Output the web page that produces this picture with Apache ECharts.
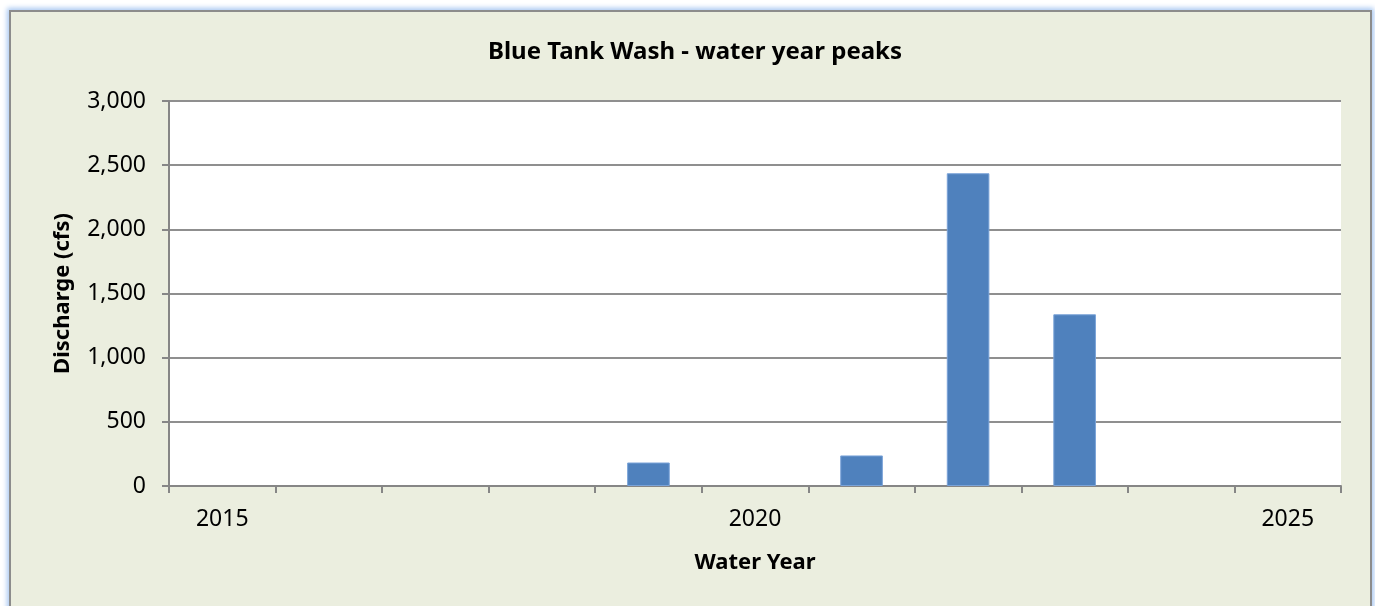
<!DOCTYPE html>
<html><head><meta charset="utf-8">
<script src="https://cdn.jsdelivr.net/npm/echarts@6/dist/echarts.min.js"></script>
<style>
html,body{margin:0;padding:0;width:1375px;height:606px;background:#fff;overflow:hidden;}
#frame{position:absolute;left:9px;top:10px;width:1359px;height:606px;background:#EBEEDF;border:2px solid #8c8c8c;box-shadow:0 0 5px 2px #a9c8f2;}
#chart{position:absolute;left:0;top:0;width:1375px;height:606px;}
</style></head>
<body><div id="frame"></div><div id="chart"></div>
<script>
const years = ['2015','2016','2017','2018','2019','2020','2021','2022','2023','2024','2025'];
const peaks = [null,null,null,null,183,null,238,2437,1338,null,null];
const yTicks = [0,500,1000,1500,2000,2500,3000];
const font = 'Noto Sans';
const chart = echarts.init(document.getElementById('chart'), null, {renderer:'canvas'});
chart.setOption({
  backgroundColor:'transparent',
  animation:false,
  title:{text:'Blue Tank Wash - water year peaks',left:690,top:35,textAlign:'center',
    textStyle:{fontFamily:font,fontSize:24,fontWeight:'bold',color:'#000'}},
  grid:{left:169,right:34,top:101,bottom:120,containLabel:false},
  xAxis:{type:'category',data:years,name:'Water Year',nameLocation:'middle',nameGap:66,
    nameTextStyle:{fontFamily:font,fontSize:22,fontWeight:'bold',color:'#000'},
    axisLine:{lineStyle:{color:'#868686',width:2}},
    axisTick:{show:true,interval:0,alignWithLabel:false,length:7,lineStyle:{color:'#868686',width:2}},
    axisLabel:{interval:4,margin:22,fontFamily:font,fontSize:23,color:'#000'}},
  yAxis:{type:'value',min:yTicks[0],max:yTicks[yTicks.length-1],interval:500,
    name:'Discharge (cfs)',nameLocation:'middle',nameGap:95,nameRotate:90,
    nameTextStyle:{fontFamily:font,fontSize:22,fontWeight:'bold',color:'#000'},
    axisLine:{show:true,lineStyle:{color:'#868686',width:2}},
    axisTick:{show:true,length:7,lineStyle:{color:'#868686',width:2}},
    splitLine:{lineStyle:{color:'#8f8f8f',width:2}},
    axisLabel:{margin:23,fontFamily:font,fontSize:23,color:'#000',
      formatter:v=>v.toLocaleString('en-US')}},
  series:[{type:'bar',data:peaks,barWidth:'40%',
    itemStyle:{color:'#4F81BD',borderColor:'#7aa3d8',borderWidth:1},
    emphasis:{disabled:true}}],
  graphic:[{type:'rect',z:-10,shape:{x:169,y:101,width:1172,height:385},style:{fill:'#fff'}}]
});
</script></body></html>
